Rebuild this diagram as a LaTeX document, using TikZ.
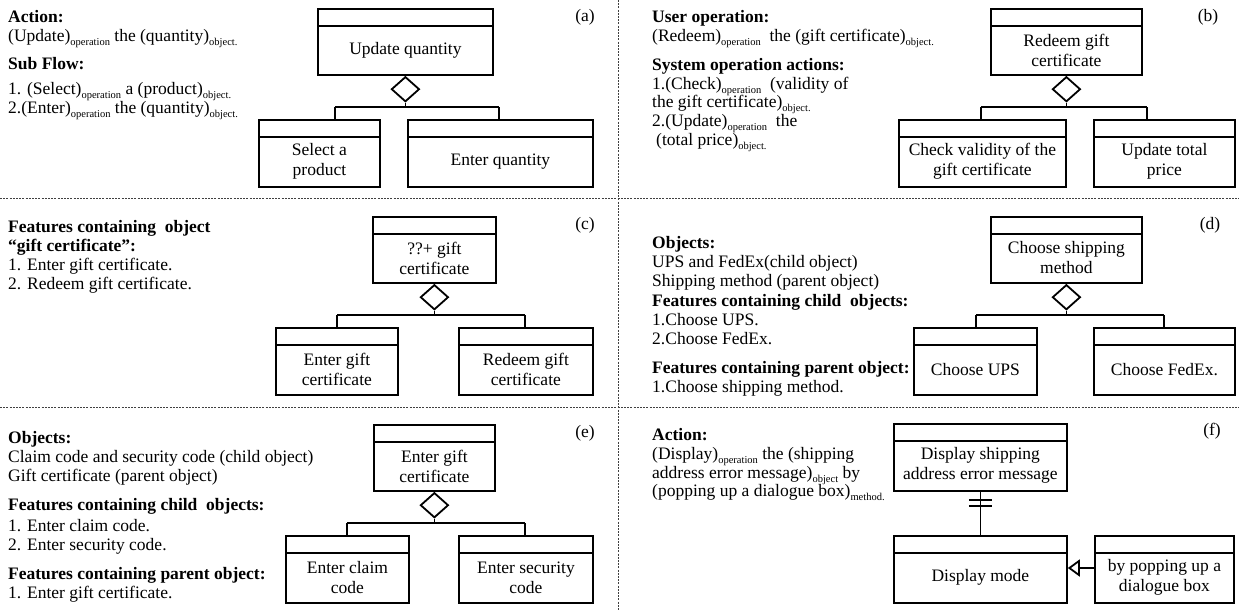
\documentclass[tikz,border=0pt]{standalone}
\usepackage{fontspec}
\setmainfont{Liberation Serif}
\usetikzlibrary{shapes.geometric,arrows.meta,calc}
\newcommand{\lsub}[1]{\raisebox{-4pt}{\fontsize{10.5}{10.5}\selectfont #1}}
\newcommand{\clsbox}[6]{%
  \node[cls, minimum width=#4pt, minimum height=#5pt] (#1) at (#2,#3) {};
  \draw[ln] ($(#1.north west)+(0,18)$) -- ($(#1.north east)+(0,18)$);
  \node[btxt] (#1-t) at ($(#1.north)+(0,{(#5+18)/2})$) {#6};}
\begin{document}
\begin{tikzpicture}[x=1pt,y=-1pt,
  txt/.style={anchor=base west, inner sep=0pt, font=\fontsize{17.5}{20}\selectfont},
  hd/.style={anchor=base west, inner sep=0pt, font=\fontsize{17.5}{20}\selectfont\bfseries},
  lbl/.style={inner sep=0pt, font=\fontsize{17.5}{20}\selectfont},
  cls/.style={draw, line width=1.8pt, anchor=north west, inner sep=0pt, fill=white},
  btxt/.style={align=center, inner sep=0pt, font=\fontsize{17.5}{20}\selectfont},
  agg/.style={draw, diamond, line width=1.8pt, fill=white, minimum width=28pt, minimum height=25pt, inner sep=0pt, anchor=north},
  ln/.style={line width=1.8pt},
  sepline/.style={dashed, dash pattern=on 2pt off 1.2pt, line width=0.6pt, black!75}]
\useasboundingbox (0,0) rectangle (1239,611);
% separators
\draw[sepline] (0,198) -- (1239,198);
\draw[sepline] (0,407) -- (1239,407);
\draw[sepline] (618,0) -- (618,611);

% ---------------- (a)
\node[hd]  (a-h1) at (8,22) {Action:};
\node[txt] (a-l1) at (8,41) {(Update)\lsub{operation} the (quantity)\lsub{object.}};
\node[hd]  (a-h2) at (8,69) {Sub Flow:};
\node[txt] (a-l2) at (8,94) {1. (Select)\lsub{operation} a (product)\lsub{object.}};
\node[txt] (a-l3) at (8,113) {2.(Enter)\lsub{operation} the (quantity)\lsub{object.}};
\node[lbl] (a-lab) at (585,17) {(a)};
\clsbox{a0}{317}{8}{175}{66}{Update quantity}
\node[agg] (a-d) at (a0.south) {};
\clsbox{a1}{258}{119}{121}{67}{Select a\\product}
\clsbox{a2}{407}{119}{185}{67}{Enter quantity}
\coordinate (a-jl) at (335,107);
\coordinate (a-jr) at (499,107);
\draw[ln] (a-d.south) -- (a-d.south |- a-jl);
\draw[ln] (a-jl) -- (a-jr);
\draw[ln] (a-jl) -- (a-jl |- a1.north);
\draw[ln] (a-jr) -- (a-jr |- a2.north);

% ---------------- (b)
\node[hd]  (b-h1) at (652,22) {User operation:};
\node[txt] (b-l1) at (652,41) {(Redeem)\lsub{operation}~ the (gift certificate)\lsub{object.}};
\node[hd]  (b-h2) at (652,70) {System operation actions:};
\node[txt] (b-l2) at (652,89) {1.(Check)\lsub{operation}~ (validity of};
\node[txt] (b-l3) at (652,107) {the gift certificate)\lsub{object.}};
\node[txt] (b-l4) at (652,126) {2.(Update)\lsub{operation}~ the};
\node[txt] (b-l5) at (656,145) {(total price)\lsub{object.}};
\node[lbl] (b-lab) at (1208,17) {(b)};
\clsbox{b0}{990}{8}{151}{66}{Redeem gift\\certificate}
\node[agg] (b-d) at (b0.south) {};
\clsbox{b1}{898}{119}{167}{67}{Check validity of the\\gift certificate}
\clsbox{b2}{1093}{119}{141}{67}{Update total\\price}
\coordinate (b-jl) at (981,107);
\coordinate (b-jr) at (1147,107);
\draw[ln] (b-d.south) -- (b-d.south |- b-jl);
\draw[ln] (b-jl) -- (b-jr);
\draw[ln] (b-jl) -- (b-jl |- b1.north);
\draw[ln] (b-jr) -- (b-jr |- b2.north);

% ---------------- (c)
\node[hd]  (c-h1) at (8,232) {Features containing~ object};
\node[hd]  (c-h2) at (8,251) {“gift certificate”:};
\node[txt] (c-l1) at (8,270) {1. Enter gift certificate.};
\node[txt] (c-l2) at (8,289) {2. Redeem gift certificate.};
\node[lbl] (c-lab) at (585,225) {(c)};
\clsbox{c0}{372}{216}{123}{66}{??+ gift\\certificate}
\node[agg] (c-d) at (c0.south) {};
\clsbox{c1}{275}{327}{122}{67}{Enter gift\\certificate}
\clsbox{c2}{458}{327}{134}{67}{Redeem gift\\certificate}
\coordinate (c-jl) at (337,315);
\coordinate (c-jr) at (525,315);
\draw[ln] (c-d.south) -- (c-d.south |- c-jl);
\draw[ln] (c-jl) -- (c-jr);
\draw[ln] (c-jl) -- (c-jl |- c1.north);
\draw[ln] (c-jr) -- (c-jr |- c2.north);

% ---------------- (d)
\node[hd]  (d-h1) at (652,248) {Objects:};
\node[txt] (d-l1) at (652,267) {UPS and FedEx(child object)};
\node[txt] (d-l2) at (652,286) {Shipping method (parent object)};
\node[hd]  (d-h2) at (652,306) {Features containing child~ objects:};
\node[txt] (d-l3) at (652,325) {1.Choose UPS.};
\node[txt] (d-l4) at (652,344) {2.Choose FedEx.};
\node[hd]  (d-h3) at (652,373) {Features containing parent object:};
\node[txt] (d-l5) at (652,392) {1.Choose shipping method.};
\node[lbl] (d-lab) at (1210,225) {(d)};
\clsbox{d0}{990}{216}{151}{66}{Choose shipping\\method}
\node[agg] (d-d) at (d0.south) {};
\clsbox{d1}{913}{327}{123}{67}{Choose UPS}
\clsbox{d2}{1093}{327}{141}{67}{Choose FedEx.}
\coordinate (d-jl) at (976,315);
\coordinate (d-jr) at (1164,315);
\draw[ln] (d-d.south) -- (d-d.south |- d-jl);
\draw[ln] (d-jl) -- (d-jr);
\draw[ln] (d-jl) -- (d-jl |- d1.north);
\draw[ln] (d-jr) -- (d-jr |- d2.north);

% ---------------- (e)
\node[hd]  (e-h1) at (8,443) {Objects:};
\node[txt] (e-l1) at (8,462) {Claim code and security code (child object)};
\node[txt] (e-l2) at (8,481) {Gift certificate (parent object)};
\node[hd]  (e-h2) at (8,510) {Features containing child~ objects:};
\node[txt] (e-l3) at (8,531) {1. Enter claim code.};
\node[txt] (e-l4) at (8,550) {2. Enter security code.};
\node[hd]  (e-h3) at (8,579) {Features containing parent object:};
\node[txt] (e-l5) at (8,598) {1. Enter gift certificate.};
\node[lbl] (e-lab) at (585,433) {(e)};
\clsbox{e0}{373}{424}{121}{66}{Enter gift\\certificate}
\node[agg] (e-d) at (e0.south) {};
\clsbox{e1}{285}{535}{123}{67}{Enter claim\\code}
\clsbox{e2}{458}{535}{134}{67}{Enter security\\code}
\coordinate (e-jl) at (347,523);
\coordinate (e-jr) at (525,523);
\draw[ln] (e-d.south) -- (e-d.south |- e-jl);
\draw[ln] (e-jl) -- (e-jr);
\draw[ln] (e-jl) -- (e-jl |- e1.north);
\draw[ln] (e-jr) -- (e-jr |- e2.north);

% ---------------- (f)
\node[hd]  (f-h1) at (652,440) {Action:};
\node[txt] (f-l1) at (652,459) {(Display)\lsub{operation} the (shipping};
\node[txt] (f-l2) at (652,478) {address error message)\lsub{object} by};
\node[txt] (f-l3) at (652,496) {(popping up a dialogue box)\lsub{method.}};
\node[lbl] (f-lab) at (1212,431) {(f)};
\clsbox{f0}{893}{423}{173}{67}{Display shipping\\address error message}
\clsbox{f1}{893}{535}{173}{67}{Display mode}
\clsbox{f2}{1094}{535}{139}{67}{by popping up a\\dialogue box}
\draw[ln] (f0.south) -- (f1.north);
\draw[ln] ($(f0.south)+(-11.5,8)$) -- ($(f0.south)+(11.5,8)$);
\draw[ln] ($(f0.south)+(-11.5,14)$) -- ($(f0.south)+(11.5,14)$);
\coordinate (f-y) at (1080,568);
\draw[ln, -{Triangle[open, length=12pt, width=17pt, line width=1.8pt]}] (f2.west |- f-y) -- (f1.east |- f-y);
\end{tikzpicture}
\end{document}
